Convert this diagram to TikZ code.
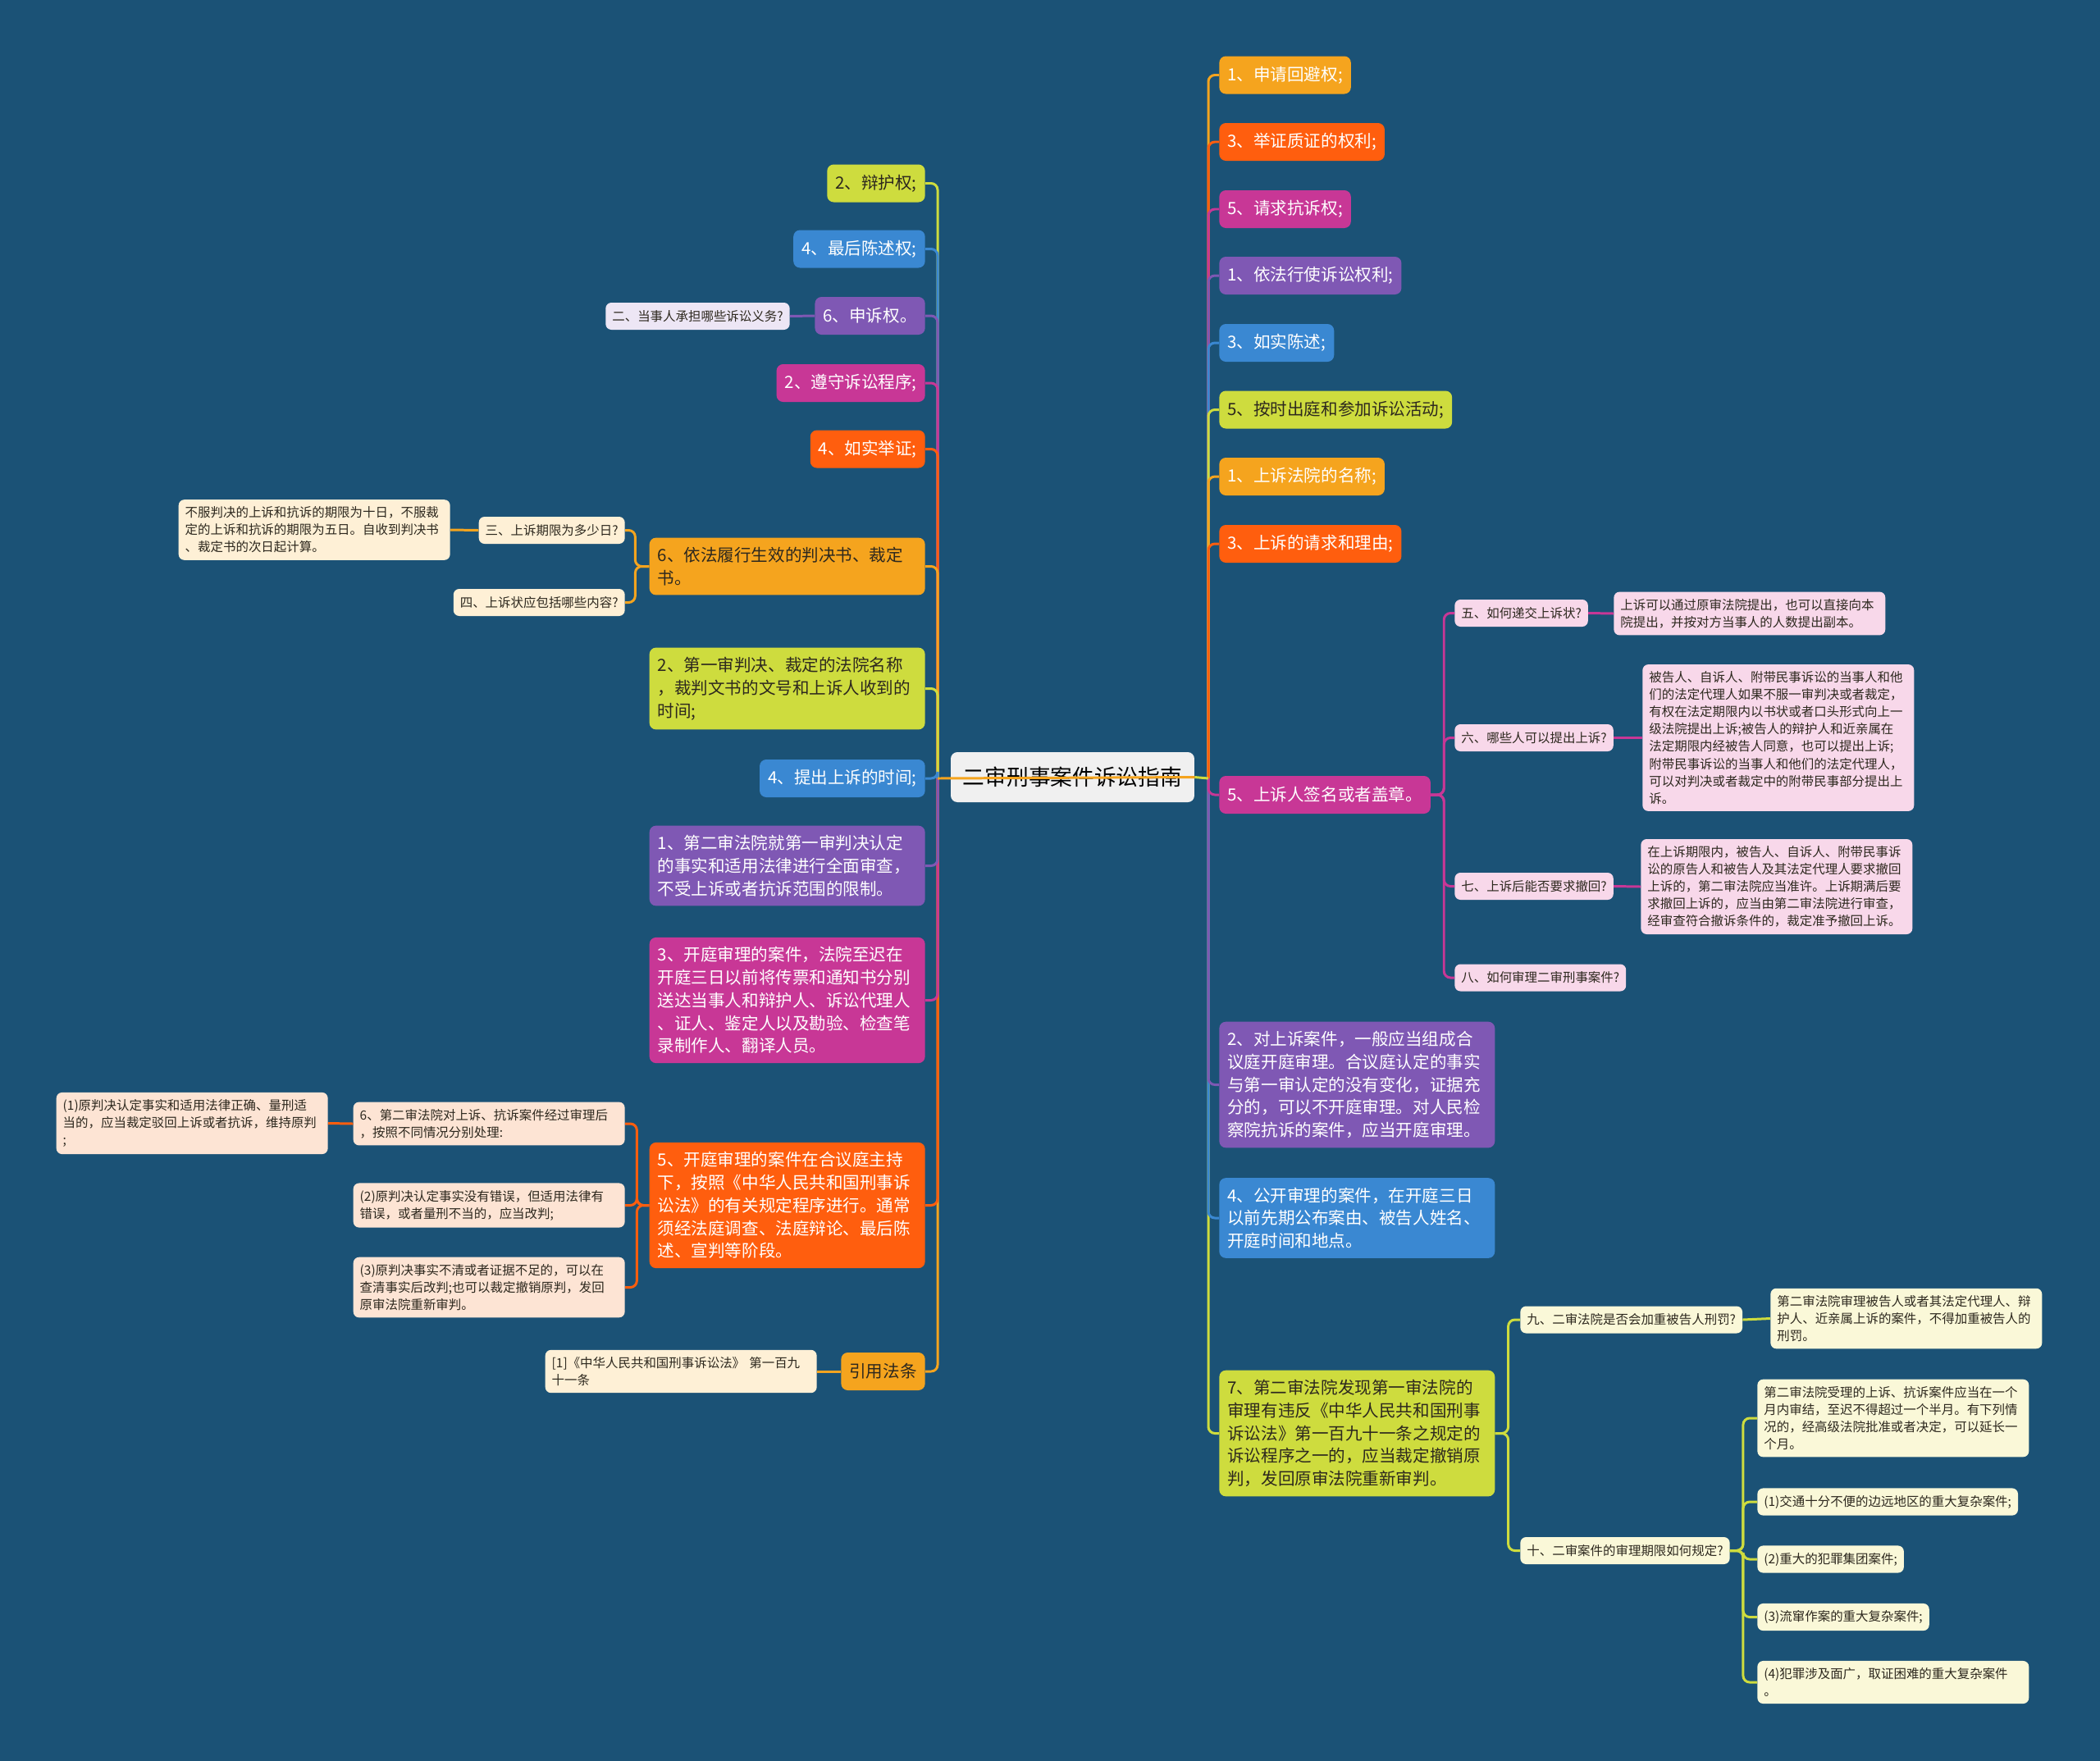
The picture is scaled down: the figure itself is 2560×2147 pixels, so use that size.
\documentclass[tikz,border=0pt]{standalone}
\usepackage{fontspec}
\setmainfont{Noto Sans CJK SC}
\usepackage{tikz}
\usetikzlibrary{positioning}
\definecolor{BgBlue}{RGB}{27,82,118}
\definecolor{LeafGreen}{RGB}{206,220,62}
\definecolor{SkyBlue}{RGB}{58,136,210}
\definecolor{GrapeViolet}{RGB}{127,88,180}
\definecolor{Rose}{RGB}{200,55,150}
\definecolor{Flame}{RGB}{255,94,14}
\definecolor{Amber}{RGB}{245,164,30}
\definecolor{CenterGray}{RGB}{240,240,240}
\definecolor{CreamA}{RGB}{254,240,214}
\definecolor{PeachA}{RGB}{253,228,212}
\definecolor{LilacA}{RGB}{237,230,245}
\definecolor{PinkA}{RGB}{248,216,234}
\definecolor{IvoryA}{RGB}{250,248,216}
\definecolor{InkDark}{RGB}{45,40,30}

\begin{document}
\begin{tikzpicture}[
        x=0.02cm, y=-0.02cm,
        conn/.style={line width=1.7pt, rounded corners=0.16cm},
        rootbox/.style={fill=CenterGray, text=black, rounded corners=0.16cm, minimum width=5.94cm, minimum height=1.22cm, font=\fontsize{15.2}{18}\selectfont},
        mainbox/.style={rounded corners=0.16cm, inner xsep=0.2cm, inner ysep=0.23cm, minimum height=0.92cm, align=left, text=white, font=\fontsize{11.7}{15.8}\selectfont},
        widebox/.style={text width=6.32cm},
        subbox/.style={rounded corners=0.14cm, inner xsep=0.16cm, inner ysep=0.17cm, minimum height=0.66cm, align=left, text=InkDark, font=\fontsize{8.8}{12}\selectfont},
        subwide/.style={text width=6.3cm},
        darktext/.style={text=InkDark}
    ]

    % background
    \useasboundingbox (0,0) rectangle (2560,2147);
    \fill[BgBlue] (0,0) rectangle (2560,2147);

    % root
    \node[rootbox] (root) at (1307.5,947.5) {二审刑事案件诉讼指南};
    \coordinate (ltrunk) at (1143,949);
    \coordinate (rtrunk) at (1473,949);

    % left branches
    \node[mainbox, fill=LeafGreen, darktext, anchor=east] (bianhu) at (1128,223.5) {2、辩护权;};
    \node[mainbox, fill=SkyBlue, anchor=east] (chenshu) at (1128,303.5) {4、最后陈述权;};
    \node[mainbox, fill=GrapeViolet, anchor=east] (shensu) at (1128,385) {6、申诉权。};
    \node[mainbox, fill=Rose, anchor=east] (zunshou) at (1128,467) {2、遵守诉讼程序;};
    \node[mainbox, fill=Flame, anchor=east] (juzheng) at (1128,547.5) {4、如实举证;};
    \node[mainbox, widebox, fill=Amber, darktext, anchor=east] (lvxing) at (1128,690.5) {6、依法履行生效的判决书、裁定\\书。};
    \node[mainbox, widebox, fill=LeafGreen, darktext, anchor=east] (fayuan) at (1128,839.5) {2、第一审判决、裁定的法院名称\\，裁判文书的文号和上诉人收到的\\时间;};
    \node[mainbox, fill=SkyBlue, anchor=east] (shijian) at (1128,949) {4、提出上诉的时间;};
    \node[mainbox, widebox, fill=GrapeViolet, anchor=east] (quanmian) at (1128,1055.5) {1、第二审法院就第一审判决认定\\的事实和适用法律进行全面审查，\\不受上诉或者抗诉范围的限制。};
    \node[mainbox, widebox, fill=Rose, anchor=east] (chuanpiao) at (1128,1219.5) {3、开庭审理的案件，法院至迟在\\开庭三日以前将传票和通知书分别\\送达当事人和辩护人、诉讼代理人\\、证人、鉴定人以及勘验、检查笔\\录制作人、翻译人员。};
    \node[mainbox, widebox, fill=Flame, anchor=east] (heyiting) at (1128,1469.5) {5、开庭审理的案件在合议庭主持\\下，按照《中华人民共和国刑事诉\\讼法》的有关规定程序进行。通常\\须经法庭调查、法庭辩论、最后陈\\述、宣判等阶段。};
    \node[mainbox, fill=Amber, darktext, anchor=east] (yinyong) at (1128,1672) {引用法条};

    % left leaves
    \node[subbox, fill=LilacA, anchor=east] (yiwu) at (963,385.5) {二、当事人承担哪些诉讼义务?};
    \node[subbox, fill=CreamA, anchor=east] (qixian) at (762,646.5) {三、上诉期限为多少日?};
    \node[subbox, subwide, fill=CreamA, anchor=east] (qixianans) at (549,646) {不服判决的上诉和抗诉的期限为十日，不服裁\\定的上诉和抗诉的期限为五日。自收到判决书\\、裁定书的次日起计算。};
    \node[subbox, fill=CreamA, anchor=east] (neirong) at (762,734.5) {四、上诉状应包括哪些内容?};
    \node[subbox, subwide, fill=PeachA, anchor=east] (chuli) at (762,1370) {6、第二审法院对上诉、抗诉案件经过审理后\\，按照不同情况分别处理:};
    \node[subbox, subwide, fill=PeachA, anchor=east] (chuli1) at (400,1369.5) {(1)原判决认定事实和适用法律正确、量刑适\\当的，应当裁定驳回上诉或者抗诉，维持原判\\;};
    \node[subbox, subwide, fill=PeachA, anchor=east] (chuli2) at (762,1469.5) {(2)原判决认定事实没有错误，但适用法律有\\错误，或者量刑不当的，应当改判;};
    \node[subbox, subwide, fill=PeachA, anchor=east] (chuli3) at (762,1569.5) {(3)原判决事实不清或者证据不足的，可以在\\查清事实后改判;也可以裁定撤销原判，发回\\原审法院重新审判。};
    \node[subbox, subwide, fill=CreamA, anchor=east] (fatiao) at (996,1672) {[1]《中华人民共和国刑事诉讼法》 第一百九\\十一条};

    % right branches
    \node[mainbox, fill=Amber, anchor=west] (huibi) at (1486,91.5) {1、申请回避权;};
    \node[mainbox, fill=Flame, anchor=west] (zhizheng) at (1486,173) {3、举证质证的权利;};
    \node[mainbox, fill=Rose, anchor=west] (kangsu) at (1486,255) {5、请求抗诉权;};
    \node[mainbox, fill=GrapeViolet, anchor=west] (xingshi) at (1486,336) {1、依法行使诉讼权利;};
    \node[mainbox, fill=SkyBlue, anchor=west] (chenshu2) at (1486,418) {3、如实陈述;};
    \node[mainbox, fill=LeafGreen, darktext, anchor=west] (chuting) at (1486,499.5) {5、按时出庭和参加诉讼活动;};
    \node[mainbox, fill=Amber, anchor=west] (mingcheng) at (1486,581) {1、上诉法院的名称;};
    \node[mainbox, fill=Flame, anchor=west] (liyou) at (1486,663) {3、上诉的请求和理由;};
    \node[mainbox, fill=Rose, anchor=west] (qianming) at (1486,969) {5、上诉人签名或者盖章。};
    \node[mainbox, widebox, fill=GrapeViolet, anchor=west] (heyiting2) at (1486,1322.5) {2、对上诉案件，一般应当组成合\\议庭开庭审理。合议庭认定的事实\\与第一审认定的没有变化，证据充\\分的，可以不开庭审理。对人民检\\察院抗诉的案件，应当开庭审理。};
    \node[mainbox, widebox, fill=SkyBlue, anchor=west] (gongkai) at (1486,1485) {4、公开审理的案件，在开庭三日\\以前先期公布案由、被告人姓名、\\开庭时间和地点。};
    \node[mainbox, widebox, fill=LeafGreen, darktext, anchor=west] (weifan) at (1486,1747.5) {7、第二审法院发现第一审法院的\\审理有违反《中华人民共和国刑事\\诉讼法》第一百九十一条之规定的\\诉讼程序之一的，应当裁定撤销原\\判，发回原审法院重新审判。};

    % right leaves
    \node[subbox, fill=PinkA, anchor=west] (dijiao) at (1773,747.5) {五、如何递交上诉状?};
    \node[subbox, subwide, fill=PinkA, anchor=west] (dijiaoans) at (1967,748) {上诉可以通过原审法院提出，也可以直接向本\\院提出，并按对方当事人的人数提出副本。};
    \node[subbox, fill=PinkA, anchor=west] (shuiren) at (1773,899.5) {六、哪些人可以提出上诉?};
    \node[subbox, subwide, fill=PinkA, anchor=west] (shuirenans) at (2002,899.5) {被告人、自诉人、附带民事诉讼的当事人和他\\们的法定代理人如果不服一审判决或者裁定，\\有权在法定期限内以书状或者口头形式向上一\\级法院提出上诉;被告人的辩护人和近亲属在\\法定期限内经被告人同意，也可以提出上诉;\\附带民事诉讼的当事人和他们的法定代理人，\\可以对判决或者裁定中的附带民事部分提出上\\诉。};
    \node[subbox, fill=PinkA, anchor=west] (chehui) at (1773,1080.5) {七、上诉后能否要求撤回?};
    \node[subbox, subwide, fill=PinkA, anchor=west] (chehuians) at (2000,1081) {在上诉期限内，被告人、自诉人、附带民事诉\\讼的原告人和被告人及其法定代理人要求撤回\\上诉的，第二审法院应当准许。上诉期满后要\\求撤回上诉的，应当由第二审法院进行审查，\\经审查符合撤诉条件的，裁定准予撤回上诉。};
    \node[subbox, fill=PinkA, anchor=west] (ruhe) at (1773,1192) {八、如何审理二审刑事案件?};
    \node[subbox, fill=IvoryA, anchor=west] (jiazhong) at (1853,1609) {九、二审法院是否会加重被告人刑罚?};
    \node[subbox, subwide, fill=IvoryA, anchor=west] (jiazhongans) at (2158,1607.5) {第二审法院审理被告人或者其法定代理人、辩\\护人、近亲属上诉的案件，不得加重被告人的\\刑罚。};
    \node[subbox, fill=IvoryA, anchor=west] (qixian2) at (1853,1890.5) {十、二审案件的审理期限如何规定?};
    \node[subbox, subwide, fill=IvoryA, anchor=west] (qx0) at (2142,1729) {第二审法院受理的上诉、抗诉案件应当在一个\\月内审结，至迟不得超过一个半月。有下列情\\况的，经高级法院批准或者决定，可以延长一\\个月。};
    \node[subbox, fill=IvoryA, anchor=west] (qx1) at (2142,1831) {(1)交通十分不便的边远地区的重大复杂案件;};
    \node[subbox, fill=IvoryA, anchor=west] (qx2) at (2142,1901) {(2)重大的犯罪集团案件;};
    \node[subbox, fill=IvoryA, anchor=west] (qx3) at (2142,1971.5) {(3)流窜作案的重大复杂案件;};
    \node[subbox, subwide, fill=IvoryA, anchor=west] (qx4) at (2142,2051) {(4)犯罪涉及面广，取证困难的重大复杂案件\\。};

    % trunk connectors
    \foreach \n/\col in {bianhu/LeafGreen, chenshu/SkyBlue, shensu/GrapeViolet, zunshou/Rose, juzheng/Flame, lvxing/Amber, fayuan/LeafGreen, shijian/SkyBlue, yinyong/Amber, heyiting/Flame, chuanpiao/Rose, quanmian/GrapeViolet}
        \draw[conn, \col] (ltrunk) |- (\n.east);
    \foreach \n/\col in {huibi/Amber, zhizheng/Flame, kangsu/Rose, xingshi/GrapeViolet, chenshu2/SkyBlue, chuting/LeafGreen, mingcheng/Amber, liyou/Flame, weifan/LeafGreen, gongkai/SkyBlue, heyiting2/GrapeViolet, qianming/Rose}
        \draw[conn, \col] (rtrunk) |- (\n.west);
    \draw[conn, LeafGreen] (root.east) -- (rtrunk);
    \draw[conn, Amber] (ltrunk) -- (root.east);

    % left sub connectors
    \draw[conn, GrapeViolet] (shensu.west) -- (yiwu.east);
    \foreach \n in {qixian, neirong}
        \draw[conn, Amber] (lvxing.west) -- ++(-17,0) |- (\n.east);
    \draw[conn, Amber] (qixian.west) -- (qixianans.east);
    \foreach \n in {chuli, chuli2, chuli3}
        \draw[conn, Flame] (heyiting.west) -- ++(-15,0) |- (\n.east);
    \draw[conn, Flame] (chuli.west) -- (chuli1.east);
    \draw[conn, Amber] (yinyong.west) -- (fatiao.east);

    % right sub connectors
    \foreach \n in {dijiao, shuiren, chehui, ruhe}
        \draw[conn, Rose] (qianming.east) -- ++(16,0) |- (\n.west);
    \draw[conn, Rose] (dijiao.east) -- (dijiaoans.west);
    \draw[conn, Rose] (shuiren.east) -- (shuirenans.west);
    \draw[conn, Rose] (chehui.east) -- (chehuians.west);
    \foreach \n in {jiazhong, qixian2}
        \draw[conn, LeafGreen] (weifan.east) -- ++(16,0) |- (\n.west);
    \draw[conn, LeafGreen] (jiazhong.east) -- (jiazhongans.west);
    \foreach \n in {qx0, qx1, qx2, qx3, qx4}
        \draw[conn, LeafGreen] (qixian2.east) -- ++(16,0) |- (\n.west);

\end{tikzpicture}
\end{document}
